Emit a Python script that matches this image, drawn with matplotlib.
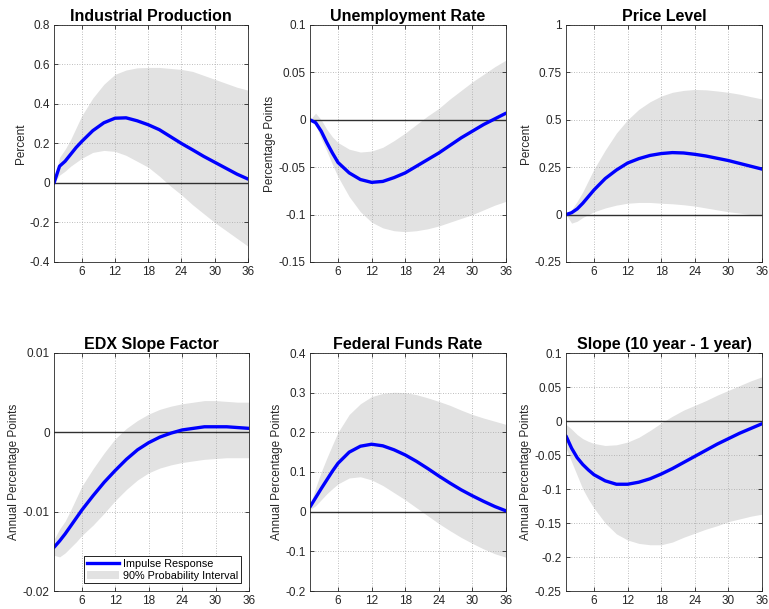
import matplotlib
matplotlib.use("Agg")
import matplotlib.pyplot as plt
from matplotlib.ticker import FuncFormatter
from matplotlib.patches import Patch
from matplotlib.lines import Line2D

plt.rcParams['font.family'] = ['Liberation Sans', 'DejaVu Sans']

months = [1, 2, 3, 4, 5, 6, 8, 10, 12, 14, 16, 18, 20, 22, 24, 26, 28, 30, 32, 34, 36]

titles = ["Industrial Production", "Unemployment Rate", "Price Level",
          "EDX Slope Factor", "Federal Funds Rate", "Slope (10 year - 1 year)"]
ylabels = ["Percent", "Percentage Points", "Percent",
           "Annual Percentage Points", "Annual Percentage Points", "Annual Percentage Points"]

ip_mid = [0, 0.085, 0.11, 0.145, 0.18, 0.21, 0.265, 0.305, 0.328, 0.33, 0.315, 0.295, 0.27, 0.235, 0.20, 0.168, 0.135, 0.105, 0.075, 0.045, 0.02]
ip_hi = [0, 0.13, 0.17, 0.22, 0.28, 0.34, 0.43, 0.5, 0.55, 0.572, 0.583, 0.585, 0.585, 0.58, 0.575, 0.565, 0.545, 0.525, 0.505, 0.485, 0.47]
ip_lo = [0, 0.04, 0.06, 0.085, 0.105, 0.125, 0.155, 0.165, 0.16, 0.14, 0.11, 0.08, 0.035, -0.015, -0.06, -0.11, -0.155, -0.2, -0.24, -0.28, -0.32]

ur_mid = [0, -0.003, -0.012, -0.024, -0.035, -0.045, -0.056, -0.063, -0.066, -0.065, -0.061, -0.056, -0.049, -0.042, -0.035, -0.027, -0.019, -0.012, -0.005, 0.001, 0.007]
ur_hi = [0, 0.007, 0.0, -0.01, -0.018, -0.024, -0.031, -0.034, -0.033, -0.029, -0.022, -0.014, -0.005, 0.004, 0.012, 0.022, 0.031, 0.04, 0.048, 0.056, 0.063]
ur_lo = [0, -0.005, -0.02, -0.033, -0.047, -0.06, -0.081, -0.097, -0.108, -0.114, -0.117, -0.118, -0.117, -0.115, -0.112, -0.108, -0.104, -0.1, -0.095, -0.09, -0.086]

pl_mid = [0, 0.01, 0.03, 0.06, 0.095, 0.13, 0.19, 0.235, 0.272, 0.295, 0.312, 0.322, 0.327, 0.325, 0.318, 0.309, 0.297, 0.285, 0.27, 0.255, 0.24]
pl_hi = [0, 0.025, 0.07, 0.12, 0.18, 0.24, 0.34, 0.43, 0.5, 0.555, 0.595, 0.625, 0.645, 0.655, 0.66, 0.658, 0.652, 0.645, 0.635, 0.622, 0.61]
pl_lo = [0, -0.045, -0.035, -0.015, 0.0, 0.015, 0.035, 0.05, 0.06, 0.064, 0.064, 0.06, 0.057, 0.052, 0.045, 0.035, 0.025, 0.015, 0.008, 0.0, -0.005]

edx_mid = [-0.0145, -0.0137, -0.0128, -0.0118, -0.0108, -0.0098, -0.008, -0.0063, -0.0048, -0.0034, -0.0022, -0.0013, -0.0006, -0.0001, 0.0003, 0.0005, 0.0007, 0.0007, 0.0007, 0.0006, 0.0005]
edx_hi = [-0.0135, -0.0122, -0.0112, -0.0098, -0.0083, -0.0068, -0.0046, -0.0026, -0.0008, 0.0005, 0.0015, 0.0023, 0.0029, 0.0033, 0.0036, 0.0038, 0.004, 0.004, 0.0039, 0.0038, 0.0038]
edx_lo = [-0.0155, -0.0157, -0.0152, -0.0145, -0.0138, -0.013, -0.0117, -0.0102, -0.0086, -0.0072, -0.006, -0.0051, -0.0045, -0.0041, -0.0038, -0.0036, -0.0034, -0.0033, -0.0032, -0.0032, -0.0032]

ffr_mid = [0.012, 0.035, 0.058, 0.08, 0.102, 0.122, 0.15, 0.165, 0.17, 0.166, 0.156, 0.143, 0.127, 0.109, 0.09, 0.072, 0.055, 0.04, 0.026, 0.013, 0.002]
ffr_hi = [0.015, 0.06, 0.1, 0.135, 0.168, 0.2, 0.245, 0.272, 0.29, 0.298, 0.301, 0.3, 0.295, 0.287, 0.278, 0.268, 0.256, 0.245, 0.236, 0.228, 0.22]
ffr_lo = [0.005, 0.015, 0.03, 0.045, 0.058, 0.07, 0.085, 0.088, 0.08, 0.066, 0.048, 0.03, 0.01, -0.01, -0.03, -0.048, -0.065, -0.08, -0.094, -0.106, -0.115]

sl_mid = [-0.022, -0.04, -0.054, -0.064, -0.072, -0.079, -0.088, -0.093, -0.093, -0.09, -0.085, -0.078, -0.07, -0.061, -0.052, -0.043, -0.034, -0.026, -0.018, -0.011, -0.004]
sl_hi = [-0.005, -0.012, -0.02, -0.026, -0.03, -0.033, -0.036, -0.035, -0.031, -0.024, -0.014, -0.003, 0.007, 0.016, 0.023, 0.03, 0.038, 0.045, 0.052, 0.059, 0.065]
sl_lo = [-0.04, -0.06, -0.08, -0.1, -0.115, -0.128, -0.15, -0.166, -0.175, -0.18, -0.182, -0.182, -0.178, -0.171, -0.165, -0.159, -0.154, -0.148, -0.144, -0.14, -0.137]

mids = [ip_mid, ur_mid, pl_mid, edx_mid, ffr_mid, sl_mid]
his = [ip_hi, ur_hi, pl_hi, edx_hi, ffr_hi, sl_hi]
los = [ip_lo, ur_lo, pl_lo, edx_lo, ffr_lo, sl_lo]

yticks = [[-0.4, -0.2, 0, 0.2, 0.4, 0.6, 0.8],
          [-0.15, -0.1, -0.05, 0, 0.05, 0.1],
          [-0.25, 0, 0.25, 0.5, 0.75, 1],
          [-0.02, -0.01, 0, 0.01],
          [-0.2, -0.1, 0, 0.1, 0.2, 0.3, 0.4],
          [-0.25, -0.2, -0.15, -0.1, -0.05, 0, 0.05, 0.1]]
xticks = [6, 12, 18, 24, 30, 36]

# axes boxes in pixels (left, top, right, bottom) on a 769x609 canvas
W, H = 769, 609
boxes = [(54, 25, 248, 262), (310, 25, 506, 262), (566, 25, 762, 262),
         (54, 353, 249, 591), (310, 353, 506, 591), (566, 353, 762, 591)]

fig = plt.figure(figsize=(W / 100, H / 100), dpi=100)
band_color = "#e2e2e2"
text_color = "#262626"

for i in range(6):
    l, t, r, b = boxes[i]
    ax = fig.add_axes([l / W, 1 - b / H, (r - l) / W, (b - t) / H])
    ax.fill_between(months, los[i], his[i], color=band_color, lw=0, zorder=1)
    ax.axhline(0, color="#303030", lw=1.0, zorder=4)
    ax.plot(months, mids[i], color="#0000ff", lw=2.4, zorder=5, solid_capstyle="round")
    ax.set_xlim(1, 36)
    ax.set_ylim(yticks[i][0], yticks[i][-1])
    ax.set_xticks(xticks)
    ax.set_yticks(yticks[i])
    ax.yaxis.set_major_formatter(FuncFormatter(lambda v, p: "%g" % round(v, 4)))
    ax.grid(True, linestyle=(0, (1, 2)), color="#a8a8a8", lw=0.6, zorder=3)
    ax.set_axisbelow(False)
    ax.tick_params(direction="in", top=True, right=True, length=3, width=0.6,
                   labelsize=8.5, colors=text_color, pad=3)
    for s in ax.spines.values():
        s.set_linewidth(0.6)
        s.set_color(text_color)
        s.set_zorder(6)
    ax.set_title(titles[i], fontsize=11.5, fontweight="bold", pad=3)
    ax.set_ylabel(ylabels[i], fontsize=8.5, color=text_color, labelpad=2)

    if i == 3:
        handles = [Line2D([0], [0], color="#0000ff", lw=2.4),
                   Patch(facecolor=band_color, edgecolor="none")]
        leg = ax.legend(handles, ["Impulse Response", "90% Probability Interval"],
                        loc="lower right", fontsize=7.8, frameon=True, fancybox=False,
                        handlelength=3.0, borderpad=0.25, labelspacing=0.15,
                        handletextpad=0.4, borderaxespad=0.7, framealpha=1)
        leg.get_frame().set_edgecolor("black")
        leg.get_frame().set_linewidth(0.6)

fig.savefig("out.png", dpi=100)
